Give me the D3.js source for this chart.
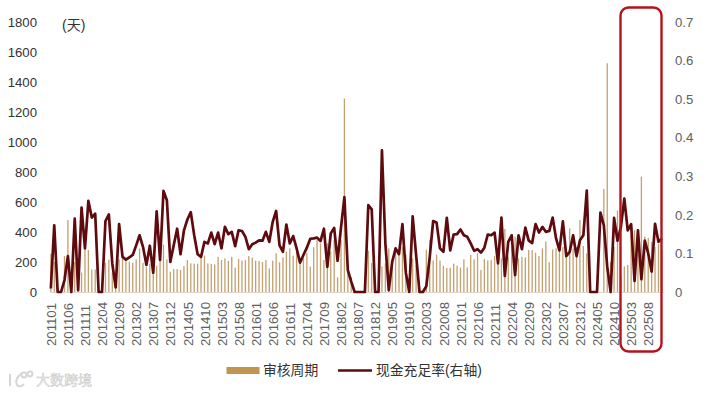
<!DOCTYPE html>
<html>
<head>
<meta charset="utf-8">
<script src="https://cdn.jsdelivr.net/npm/d3@7"></script>
<style>
  html, body { margin: 0; padding: 0; background: #fff; }
  svg { display: block; }
  text { font-family: "Liberation Sans", Arial, sans-serif; }
  .cjk { font-family: "Liberation Sans", "Noto Sans CJK SC", sans-serif; }
</style>
</head>
<body>
<svg width="709" height="394"></svg>
<script>
const months = [
  "201101","201102","201103","201104","201105","201106","201107","201108","201109","201110","201111","201112",
  "201201","201202","201203","201204","201205","201206","201207","201208","201209","201210","201211","201212",
  "201301","201302","201303","201304","201305","201306","201307","201308","201309","201310","201311","201312",
  "201401","201402","201403","201404","201405","201406","201407","201408","201409","201410","201411","201412",
  "201501","201502","201503","201504","201505","201506","201507","201508","201509","201510","201511","201512",
  "201601","201602","201603","201604","201605","201606","201607","201608","201609","201610","201611","201612",
  "201701","201702","201703","201704","201705","201706","201707","201708","201709","201710","201711","201712",
  "201801","201802","201803","201804","201805","201806","201807","201808","201809","201810","201811","201812",
  "201901","201902","201903","201904","201905","201906","201907","201908","201909","201910","201911","201912",
  "202001","202002","202003","202004","202005","202006","202007","202008","202009","202010","202011","202012",
  "202101","202102","202103","202104","202105","202106","202107","202108","202109","202110","202111","202112",
  "202201","202202","202203","202204","202205","202206","202207","202208","202209","202210","202211","202212",
  "202301","202302","202303","202304","202305","202306","202307","202308","202309","202310","202311","202312",
  "202401","202402","202403","202404","202405","202406","202407","202408","202409","202410","202411","202412",
  "202501","202502","202503","202504","202505","202506","202507","202508","202509","202510","202511","202512"
];

// 审核周期 (天)
const reviewDays = [
  255,200,0,0,240,480,90,200,200,130,
  280,280,150,150,20,20,195,215,130,80,
  218,225,213,202,195,218,290,195,165,190,
  158,175,240,315,218,135,153,153,147,173,
  213,191,189,189,231,242,191,187,184,235,
  213,224,207,235,162,220,209,213,240,229,
  209,207,200,213,158,209,258,198,231,269,
  291,242,273,191,224,260,169,298,347,324,
  213,324,269,347,98,347,1290,147,100,0,
  0,0,0,275,193,0,0,171,191,291,
  215,296,248,300,250,0,224,180,0,0,
  282,349,210,249,210,175,160,162,189,175,
  163,218,164,247,218,258,147,220,211,213,
  240,224,224,420,235,300,369,224,235,231,
  280,280,262,240,291,336,198,284,291,296,
  300,240,424,290,300,480,307,258,0,0,
  0,0,687,1525,200,300,543,100,171,180,
  380,411,300,769,369,360,335,300,320,280
];

// 现金充足率 (右轴)
const cashRatio = [
  .009,.173,0,0,.031,.093,0,.19,.005,.219,
  .113,.236,.193,.203,0,0,.184,.201,.074,.012,
  .176,.091,.084,.09,.096,.121,.147,.117,.07,.12,
  .05,.209,.083,.262,.238,.078,.121,.164,.098,.16,
  .188,.207,.147,.098,.091,.13,.126,.154,.124,.154,
  .113,.169,.15,.156,.119,.16,.158,.143,.111,.124,
  .128,.134,.133,.156,.13,.182,.21,.121,.104,.175,
  .126,.145,.113,.076,.096,.115,.138,.139,.141,.132,
  .164,.065,.152,.166,.081,.167,.246,.057,.027,0,
  0,0,0,.225,.214,0,0,.367,.126,.005,
  .078,.113,.098,.176,.05,0,.196,.096,0,0,
  .015,.091,.184,.18,.113,.104,.192,.108,.149,.15,
  .162,.147,.143,.126,.107,.111,.102,.115,.149,.147,
  .154,.074,.193,.042,.13,.147,.044,.147,.111,.167,
  .133,.127,.176,.154,.169,.156,.158,.193,.139,.108,
  .183,.093,.104,.147,.093,.134,.147,.263,0,0,
  0,.206,.173,.065,0,.192,.133,.169,.242,.16,
  .176,.029,.16,.033,.133,.1,.053,.177,.13,.139
];

const leftTicks = [0,200,400,600,800,1000,1200,1400,1600,1800];
const rightTicks = [0,0.1,0.2,0.3,0.4,0.5,0.6,0.7];
const monthTicks = months.filter((d, i) => i % 5 === 0 && i <= 175);

const svg = d3.select("svg");

const xScale = d3.scaleBand()
                 .domain(months)
                 .range([49.5, 663.2])
                 .paddingInner(0.62)
                 .paddingOuter(0.2);

const yLeft = d3.scaleLinear().domain([0, 1800]).range([292, 22]);
const yRight = d3.scaleLinear().domain([0, 0.7]).range([292, 22]);

const xMid = d => xScale(d) + xScale.bandwidth() / 2;

// bars
svg.append("g")
  .selectAll("rect")
  .data(months)
  .join("rect")
    .attr("x", d => xScale(d))
    .attr("width", xScale.bandwidth())
    .attr("y", (d, i) => yLeft(reviewDays[i]))
    .attr("height", (d, i) => yLeft(0) - yLeft(reviewDays[i]))
    .attr("fill", "#C3A06E");

// x axis
const xAxis = d3.axisBottom(xScale).tickValues(monthTicks).tickSize(0).tickPadding(0);
const xG = svg.append("g")
  .attr("transform", "translate(0, 292)")
  .call(xAxis);
xG.select(".domain").attr("stroke", "#e0d6c8").attr("stroke-width", 1);
xG.selectAll("text")
  .attr("transform", "rotate(-90)")
  .attr("x", -54)
  .attr("y", 0.5)
  .attr("dy", "0.35em")
  .attr("text-anchor", "start")
  .attr("font-size", 13.2)
  .attr("font-family", "Liberation Sans")
  .attr("fill", "#606060");

// line
const line = d3.line()
  .x(d => xMid(d))
  .y((d, i) => yRight(cashRatio[i]));

svg.append("path")
  .datum(months)
  .attr("d", line)
  .attr("fill", "none")
  .attr("stroke", "#5E0A0E")
  .attr("stroke-width", 2.7)
  .attr("stroke-linejoin", "round");

// y axes
const leftG = svg.append("g")
  .attr("transform", "translate(37, 0)")
  .call(d3.axisLeft(yLeft).tickValues(leftTicks).tickSize(0).tickPadding(0).tickFormat(d3.format("d")));
leftG.select(".domain").remove();
leftG.selectAll("text")
  .attr("font-size", 13.2).attr("font-family", "Liberation Sans").attr("fill", "#333");

const rightG = svg.append("g")
  .attr("transform", "translate(675, 0)")
  .call(d3.axisRight(yRight).tickValues(rightTicks).tickSize(0).tickPadding(0).tickFormat(d => d === 0 ? "0" : d3.format(".1f")(d)));
rightG.select(".domain").remove();
rightG.selectAll("text")
  .attr("font-size", 13.2).attr("font-family", "Liberation Sans").attr("fill", "#606060");

svg.append("text")
  .attr("class", "cjk")
  .attr("x", 62).attr("y", 30)
  .attr("font-size", 14).attr("fill", "#333")
  .text("(天)");

// highlight box
svg.append("rect")
  .attr("x", 620.5).attr("y", 7.5)
  .attr("width", 41).attr("height", 344)
  .attr("rx", 8).attr("ry", 8)
  .attr("fill", "none")
  .attr("stroke", "#B3141C")
  .attr("stroke-width", 2.4);

// legend
svg.append("rect")
  .attr("x", 226.5).attr("y", 367)
  .attr("width", 33).attr("height", 7)
  .attr("fill", "#C09550");
svg.append("text")
  .attr("class", "cjk")
  .attr("x", 263).attr("y", 375)
  .attr("font-size", 13.8).attr("fill", "#333")
  .text("审核周期");
svg.append("line")
  .attr("x1", 338).attr("x2", 372)
  .attr("y1", 370.5).attr("y2", 370.5)
  .attr("stroke", "#5E0A0E").attr("stroke-width", 2.4);
svg.append("text")
  .attr("class", "cjk")
  .attr("x", 376).attr("y", 375)
  .attr("font-size", 13.8).attr("fill", "#333")
  .text("现金充足率(右轴)");

// watermark
const mark = svg.append("g")
  .attr("fill", "none")
  .attr("stroke", "#d6d6d6")
  .attr("stroke-width", 2);
mark.append("path").attr("d", "M10 374 L10 386 M22 373 Q14 379 17 385 Q20 388 24 384");
mark.append("circle").attr("cx", 24).attr("cy", 375).attr("r", 2.4);
mark.append("circle").attr("cx", 30).attr("cy", 374).attr("r", 2.4);
svg.append("text")
  .attr("class", "cjk")
  .attr("x", 36).attr("y", 385)
  .attr("font-size", 14)
  .attr("fill", "#ececec")
  .attr("stroke", "#cccccc")
  .attr("stroke-width", 0.5)
  .text("大数跨境");
</script>
</body>
</html>
